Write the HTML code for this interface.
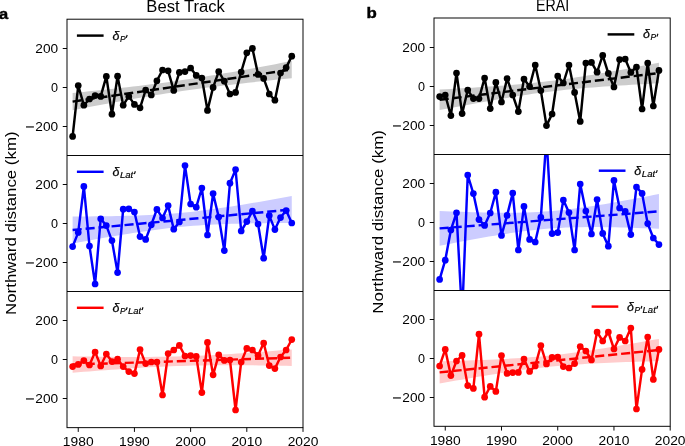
<!DOCTYPE html>
<html><head><meta charset="utf-8"><title>Northward distance</title>
<style>html,body{margin:0;padding:0;background:#fff;}svg{display:block;will-change:transform;}</style>
</head><body>
<svg width="685" height="446" viewBox="0 0 685 446" font-family='"Liberation Sans", sans-serif' fill="#000">
<rect width="685" height="446" fill="#fff"/>
<defs>
<clipPath id="ca0"><rect x="67" y="19.2" width="236" height="136.3"/></clipPath>
<clipPath id="ca1"><rect x="67" y="155.5" width="236" height="136"/></clipPath>
<clipPath id="ca2"><rect x="67" y="291.5" width="236" height="136.15"/></clipPath>
<clipPath id="cb0"><rect x="434" y="18" width="236.2" height="136.5"/></clipPath>
<clipPath id="cb1"><rect x="434" y="154.5" width="236.2" height="136"/></clipPath>
<clipPath id="cb2"><rect x="434" y="290.5" width="236.2" height="135.8"/></clipPath>
</defs>
<g clip-path="url(#ca0)">
<path d="M72.62 93 L78.1 92.45 L83.58 91.9 L89.05 91.34 L94.53 90.77 L100.01 90.19 L105.49 89.61 L110.97 89.02 L116.45 88.42 L121.93 87.81 L127.4 87.18 L132.88 86.55 L138.36 85.9 L143.84 85.23 L149.32 84.55 L154.8 83.86 L160.28 83.14 L165.75 82.41 L171.23 81.66 L176.71 80.89 L182.19 80.1 L187.67 79.29 L193.15 78.46 L198.63 77.61 L204.1 76.74 L209.58 75.86 L215.06 74.95 L220.54 74.03 L226.02 73.1 L231.5 72.15 L236.98 71.18 L242.45 70.21 L247.93 69.22 L253.41 68.22 L258.89 67.21 L264.37 66.19 L269.85 65.17 L275.33 64.14 L280.8 63.1 L286.28 62.05 L291.76 61 L291.76 78.2 L286.28 78.75 L280.8 79.3 L275.33 79.86 L269.85 80.43 L264.37 81.01 L258.89 81.59 L253.41 82.18 L247.93 82.78 L242.45 83.39 L236.98 84.02 L231.5 84.65 L226.02 85.3 L220.54 85.97 L215.06 86.65 L209.58 87.34 L204.1 88.06 L198.63 88.79 L193.15 89.54 L187.67 90.31 L182.19 91.1 L176.71 91.91 L171.23 92.74 L165.75 93.59 L160.28 94.46 L154.8 95.34 L149.32 96.25 L143.84 97.17 L138.36 98.1 L132.88 99.05 L127.4 100.02 L121.93 100.99 L116.45 101.98 L110.97 102.98 L105.49 103.99 L100.01 105.01 L94.53 106.03 L89.05 107.06 L83.58 108.1 L78.1 109.15 L72.62 110.2 Z" fill="#cccccc"/>
<polyline fill="none" stroke="#000000" stroke-width="2.45" stroke-linejoin="round" stroke-linecap="square" points="72.62,136.4 78.24,85.6 83.86,105.2 89.48,99 95.1,95.6 100.71,96.4 106.33,76.4 111.95,114.2 117.57,76.2 123.19,105.2 128.81,96.4 134.43,104.4 140.05,107.8 145.67,90 151.29,95 156.9,80.8 162.52,70 168.14,70.8 173.76,90.4 179.38,72.4 185,71.6 190.62,68 196.24,75.4 201.86,78 207.48,110.4 213.1,87.4 218.71,71.6 224.33,81.2 229.95,94 235.57,92.4 241.19,72 246.81,52.8 252.43,48.4 258.05,74.4 263.67,78.4 269.29,94 274.9,100.2 280.52,73 286.14,67.6 291.76,56.2"/>
<circle cx="72.62" cy="136.4" r="3.35" fill="#000000"/>
<circle cx="78.24" cy="85.6" r="3.35" fill="#000000"/>
<circle cx="83.86" cy="105.2" r="3.35" fill="#000000"/>
<circle cx="89.48" cy="99" r="3.35" fill="#000000"/>
<circle cx="95.1" cy="95.6" r="3.35" fill="#000000"/>
<circle cx="100.71" cy="96.4" r="3.35" fill="#000000"/>
<circle cx="106.33" cy="76.4" r="3.35" fill="#000000"/>
<circle cx="111.95" cy="114.2" r="3.35" fill="#000000"/>
<circle cx="117.57" cy="76.2" r="3.35" fill="#000000"/>
<circle cx="123.19" cy="105.2" r="3.35" fill="#000000"/>
<circle cx="128.81" cy="96.4" r="3.35" fill="#000000"/>
<circle cx="134.43" cy="104.4" r="3.35" fill="#000000"/>
<circle cx="140.05" cy="107.8" r="3.35" fill="#000000"/>
<circle cx="145.67" cy="90" r="3.35" fill="#000000"/>
<circle cx="151.29" cy="95" r="3.35" fill="#000000"/>
<circle cx="156.9" cy="80.8" r="3.35" fill="#000000"/>
<circle cx="162.52" cy="70" r="3.35" fill="#000000"/>
<circle cx="168.14" cy="70.8" r="3.35" fill="#000000"/>
<circle cx="173.76" cy="90.4" r="3.35" fill="#000000"/>
<circle cx="179.38" cy="72.4" r="3.35" fill="#000000"/>
<circle cx="185" cy="71.6" r="3.35" fill="#000000"/>
<circle cx="190.62" cy="68" r="3.35" fill="#000000"/>
<circle cx="196.24" cy="75.4" r="3.35" fill="#000000"/>
<circle cx="201.86" cy="78" r="3.35" fill="#000000"/>
<circle cx="207.48" cy="110.4" r="3.35" fill="#000000"/>
<circle cx="213.1" cy="87.4" r="3.35" fill="#000000"/>
<circle cx="218.71" cy="71.6" r="3.35" fill="#000000"/>
<circle cx="224.33" cy="81.2" r="3.35" fill="#000000"/>
<circle cx="229.95" cy="94" r="3.35" fill="#000000"/>
<circle cx="235.57" cy="92.4" r="3.35" fill="#000000"/>
<circle cx="241.19" cy="72" r="3.35" fill="#000000"/>
<circle cx="246.81" cy="52.8" r="3.35" fill="#000000"/>
<circle cx="252.43" cy="48.4" r="3.35" fill="#000000"/>
<circle cx="258.05" cy="74.4" r="3.35" fill="#000000"/>
<circle cx="263.67" cy="78.4" r="3.35" fill="#000000"/>
<circle cx="269.29" cy="94" r="3.35" fill="#000000"/>
<circle cx="274.9" cy="100.2" r="3.35" fill="#000000"/>
<circle cx="280.52" cy="73" r="3.35" fill="#000000"/>
<circle cx="286.14" cy="67.6" r="3.35" fill="#000000"/>
<circle cx="291.76" cy="56.2" r="3.35" fill="#000000"/>
<line x1="72.62" y1="101.6" x2="291.76" y2="69.6" stroke="#000000" stroke-width="2.45" stroke-dasharray="9.1 3.93"/>
</g>
<g clip-path="url(#ca1)">
<path d="M72.62 216.5 L78.1 216.48 L83.58 216.45 L89.05 216.41 L94.53 216.36 L100.01 216.3 L105.49 216.23 L110.97 216.15 L116.45 216.05 L121.93 215.94 L127.4 215.8 L132.88 215.65 L138.36 215.46 L143.84 215.26 L149.32 215.02 L154.8 214.74 L160.28 214.43 L165.75 214.08 L171.23 213.68 L176.71 213.24 L182.19 212.75 L187.67 212.21 L193.15 211.63 L198.63 211 L204.1 210.33 L209.58 209.62 L215.06 208.87 L220.54 208.08 L226.02 207.26 L231.5 206.42 L236.98 205.55 L242.45 204.66 L247.93 203.75 L253.41 202.83 L258.89 201.88 L264.37 200.93 L269.85 199.96 L275.33 198.98 L280.8 198 L286.28 197 L291.76 196 L291.76 223 L286.28 223.02 L280.8 223.05 L275.33 223.09 L269.85 223.14 L264.37 223.2 L258.89 223.27 L253.41 223.35 L247.93 223.45 L242.45 223.56 L236.98 223.7 L231.5 223.85 L226.02 224.04 L220.54 224.24 L215.06 224.48 L209.58 224.76 L204.1 225.07 L198.63 225.42 L193.15 225.82 L187.67 226.26 L182.19 226.75 L176.71 227.29 L171.23 227.87 L165.75 228.5 L160.28 229.17 L154.8 229.88 L149.32 230.63 L143.84 231.42 L138.36 232.24 L132.88 233.08 L127.4 233.95 L121.93 234.84 L116.45 235.75 L110.97 236.67 L105.49 237.62 L100.01 238.57 L94.53 239.54 L89.05 240.52 L83.58 241.5 L78.1 242.5 L72.62 243.5 Z" fill="#ccccff"/>
<polyline fill="none" stroke="#0000ff" stroke-width="2.45" stroke-linejoin="round" stroke-linecap="square" points="72.62,246.6 78.24,232.4 83.86,186.4 89.48,246 95.1,284 100.71,218.8 106.33,225.6 111.95,240.6 117.57,272.6 123.19,209.2 128.81,208.8 134.43,212 140.05,236.6 145.67,239.4 151.29,224.8 156.9,209.4 162.52,218 168.14,205.6 173.76,229.2 179.38,222 185,165.6 190.62,204 196.24,207.2 201.86,188 207.48,235 213.1,193.6 218.71,217 224.33,250.6 229.95,183.2 235.57,169.6 241.19,231 246.81,221.6 252.43,211 258.05,224 263.67,258.2 269.29,215.6 274.9,229.6 280.52,217.6 286.14,210.6 291.76,223"/>
<circle cx="72.62" cy="246.6" r="3.35" fill="#0000ff"/>
<circle cx="78.24" cy="232.4" r="3.35" fill="#0000ff"/>
<circle cx="83.86" cy="186.4" r="3.35" fill="#0000ff"/>
<circle cx="89.48" cy="246" r="3.35" fill="#0000ff"/>
<circle cx="95.1" cy="284" r="3.35" fill="#0000ff"/>
<circle cx="100.71" cy="218.8" r="3.35" fill="#0000ff"/>
<circle cx="106.33" cy="225.6" r="3.35" fill="#0000ff"/>
<circle cx="111.95" cy="240.6" r="3.35" fill="#0000ff"/>
<circle cx="117.57" cy="272.6" r="3.35" fill="#0000ff"/>
<circle cx="123.19" cy="209.2" r="3.35" fill="#0000ff"/>
<circle cx="128.81" cy="208.8" r="3.35" fill="#0000ff"/>
<circle cx="134.43" cy="212" r="3.35" fill="#0000ff"/>
<circle cx="140.05" cy="236.6" r="3.35" fill="#0000ff"/>
<circle cx="145.67" cy="239.4" r="3.35" fill="#0000ff"/>
<circle cx="151.29" cy="224.8" r="3.35" fill="#0000ff"/>
<circle cx="156.9" cy="209.4" r="3.35" fill="#0000ff"/>
<circle cx="162.52" cy="218" r="3.35" fill="#0000ff"/>
<circle cx="168.14" cy="205.6" r="3.35" fill="#0000ff"/>
<circle cx="173.76" cy="229.2" r="3.35" fill="#0000ff"/>
<circle cx="179.38" cy="222" r="3.35" fill="#0000ff"/>
<circle cx="185" cy="165.6" r="3.35" fill="#0000ff"/>
<circle cx="190.62" cy="204" r="3.35" fill="#0000ff"/>
<circle cx="196.24" cy="207.2" r="3.35" fill="#0000ff"/>
<circle cx="201.86" cy="188" r="3.35" fill="#0000ff"/>
<circle cx="207.48" cy="235" r="3.35" fill="#0000ff"/>
<circle cx="213.1" cy="193.6" r="3.35" fill="#0000ff"/>
<circle cx="218.71" cy="217" r="3.35" fill="#0000ff"/>
<circle cx="224.33" cy="250.6" r="3.35" fill="#0000ff"/>
<circle cx="229.95" cy="183.2" r="3.35" fill="#0000ff"/>
<circle cx="235.57" cy="169.6" r="3.35" fill="#0000ff"/>
<circle cx="241.19" cy="231" r="3.35" fill="#0000ff"/>
<circle cx="246.81" cy="221.6" r="3.35" fill="#0000ff"/>
<circle cx="252.43" cy="211" r="3.35" fill="#0000ff"/>
<circle cx="258.05" cy="224" r="3.35" fill="#0000ff"/>
<circle cx="263.67" cy="258.2" r="3.35" fill="#0000ff"/>
<circle cx="269.29" cy="215.6" r="3.35" fill="#0000ff"/>
<circle cx="274.9" cy="229.6" r="3.35" fill="#0000ff"/>
<circle cx="280.52" cy="217.6" r="3.35" fill="#0000ff"/>
<circle cx="286.14" cy="210.6" r="3.35" fill="#0000ff"/>
<circle cx="291.76" cy="223" r="3.35" fill="#0000ff"/>
<line x1="72.62" y1="230" x2="291.76" y2="209.5" stroke="#0000ff" stroke-width="2.45" stroke-dasharray="9.1 3.93"/>
</g>
<g clip-path="url(#ca2)">
<path d="M72.62 356.3 L78.1 356.4 L83.58 356.49 L89.05 356.58 L94.53 356.66 L100.01 356.73 L105.49 356.79 L110.97 356.85 L116.45 356.9 L121.93 356.94 L127.4 356.96 L132.88 356.97 L138.36 356.97 L143.84 356.96 L149.32 356.92 L154.8 356.87 L160.28 356.8 L165.75 356.71 L171.23 356.59 L176.71 356.46 L182.19 356.3 L187.67 356.12 L193.15 355.91 L198.63 355.69 L204.1 355.44 L209.58 355.17 L215.06 354.88 L220.54 354.58 L226.02 354.25 L231.5 353.91 L236.98 353.56 L242.45 353.2 L247.93 352.82 L253.41 352.43 L258.89 352.03 L264.37 351.63 L269.85 351.22 L275.33 350.8 L280.8 350.37 L286.28 349.94 L291.76 349.5 L291.76 365.9 L286.28 365.8 L280.8 365.71 L275.33 365.62 L269.85 365.54 L264.37 365.47 L258.89 365.41 L253.41 365.35 L247.93 365.3 L242.45 365.26 L236.98 365.24 L231.5 365.23 L226.02 365.23 L220.54 365.24 L215.06 365.28 L209.58 365.33 L204.1 365.4 L198.63 365.49 L193.15 365.61 L187.67 365.74 L182.19 365.9 L176.71 366.08 L171.23 366.29 L165.75 366.51 L160.28 366.76 L154.8 367.03 L149.32 367.32 L143.84 367.62 L138.36 367.95 L132.88 368.29 L127.4 368.64 L121.93 369 L116.45 369.38 L110.97 369.77 L105.49 370.17 L100.01 370.57 L94.53 370.98 L89.05 371.4 L83.58 371.83 L78.1 372.26 L72.62 372.7 Z" fill="#ffcccc"/>
<polyline fill="none" stroke="#ff0000" stroke-width="2.45" stroke-linejoin="round" stroke-linecap="square" points="72.62,366.6 78.24,364.4 83.86,360.6 89.48,365 95.1,352 100.71,366 106.33,354 111.95,361.6 117.57,359.2 123.19,366.6 128.81,371.6 134.43,373.6 140.05,349.6 145.67,363.6 151.29,362 156.9,362 162.52,395 168.14,353.6 173.76,350 179.38,345.4 185,356 190.62,355.6 196.24,356.4 201.86,392.6 207.48,342.4 213.1,374.8 218.71,354.8 224.33,360.4 229.95,360 235.57,410 241.19,362 246.81,348.4 252.43,350 258.05,355.4 263.67,343 269.29,365.6 274.9,368.6 280.52,357 286.14,350 291.76,339.6"/>
<circle cx="72.62" cy="366.6" r="3.35" fill="#ff0000"/>
<circle cx="78.24" cy="364.4" r="3.35" fill="#ff0000"/>
<circle cx="83.86" cy="360.6" r="3.35" fill="#ff0000"/>
<circle cx="89.48" cy="365" r="3.35" fill="#ff0000"/>
<circle cx="95.1" cy="352" r="3.35" fill="#ff0000"/>
<circle cx="100.71" cy="366" r="3.35" fill="#ff0000"/>
<circle cx="106.33" cy="354" r="3.35" fill="#ff0000"/>
<circle cx="111.95" cy="361.6" r="3.35" fill="#ff0000"/>
<circle cx="117.57" cy="359.2" r="3.35" fill="#ff0000"/>
<circle cx="123.19" cy="366.6" r="3.35" fill="#ff0000"/>
<circle cx="128.81" cy="371.6" r="3.35" fill="#ff0000"/>
<circle cx="134.43" cy="373.6" r="3.35" fill="#ff0000"/>
<circle cx="140.05" cy="349.6" r="3.35" fill="#ff0000"/>
<circle cx="145.67" cy="363.6" r="3.35" fill="#ff0000"/>
<circle cx="151.29" cy="362" r="3.35" fill="#ff0000"/>
<circle cx="156.9" cy="362" r="3.35" fill="#ff0000"/>
<circle cx="162.52" cy="395" r="3.35" fill="#ff0000"/>
<circle cx="168.14" cy="353.6" r="3.35" fill="#ff0000"/>
<circle cx="173.76" cy="350" r="3.35" fill="#ff0000"/>
<circle cx="179.38" cy="345.4" r="3.35" fill="#ff0000"/>
<circle cx="185" cy="356" r="3.35" fill="#ff0000"/>
<circle cx="190.62" cy="355.6" r="3.35" fill="#ff0000"/>
<circle cx="196.24" cy="356.4" r="3.35" fill="#ff0000"/>
<circle cx="201.86" cy="392.6" r="3.35" fill="#ff0000"/>
<circle cx="207.48" cy="342.4" r="3.35" fill="#ff0000"/>
<circle cx="213.1" cy="374.8" r="3.35" fill="#ff0000"/>
<circle cx="218.71" cy="354.8" r="3.35" fill="#ff0000"/>
<circle cx="224.33" cy="360.4" r="3.35" fill="#ff0000"/>
<circle cx="229.95" cy="360" r="3.35" fill="#ff0000"/>
<circle cx="235.57" cy="410" r="3.35" fill="#ff0000"/>
<circle cx="241.19" cy="362" r="3.35" fill="#ff0000"/>
<circle cx="246.81" cy="348.4" r="3.35" fill="#ff0000"/>
<circle cx="252.43" cy="350" r="3.35" fill="#ff0000"/>
<circle cx="258.05" cy="355.4" r="3.35" fill="#ff0000"/>
<circle cx="263.67" cy="343" r="3.35" fill="#ff0000"/>
<circle cx="269.29" cy="365.6" r="3.35" fill="#ff0000"/>
<circle cx="274.9" cy="368.6" r="3.35" fill="#ff0000"/>
<circle cx="280.52" cy="357" r="3.35" fill="#ff0000"/>
<circle cx="286.14" cy="350" r="3.35" fill="#ff0000"/>
<circle cx="291.76" cy="339.6" r="3.35" fill="#ff0000"/>
<line x1="72.62" y1="364.5" x2="291.76" y2="357.7" stroke="#ff0000" stroke-width="2.45" stroke-dasharray="9.1 3.93"/>
</g>
<g stroke="#000" stroke-width="0.97" fill="none">
<rect x="67" y="19.2" width="236" height="408.45"/>
<line x1="67" y1="155.5" x2="303" y2="155.5"/>
<line x1="67" y1="291.5" x2="303" y2="291.5"/>
<line x1="62.75" y1="48.5" x2="67" y2="48.5"/>
<line x1="62.75" y1="87.5" x2="67" y2="87.5"/>
<line x1="62.75" y1="126.5" x2="67" y2="126.5"/>
<line x1="62.75" y1="184.5" x2="67" y2="184.5"/>
<line x1="62.75" y1="223.5" x2="67" y2="223.5"/>
<line x1="62.75" y1="262.5" x2="67" y2="262.5"/>
<line x1="62.75" y1="320.5" x2="67" y2="320.5"/>
<line x1="62.75" y1="359.5" x2="67" y2="359.5"/>
<line x1="62.75" y1="398.5" x2="67" y2="398.5"/>
<line x1="78.24" y1="427.65" x2="78.24" y2="431.9"/>
<line x1="134.43" y1="427.65" x2="134.43" y2="431.9"/>
<line x1="190.62" y1="427.65" x2="190.62" y2="431.9"/>
<line x1="246.81" y1="427.65" x2="246.81" y2="431.9"/>
<line x1="303" y1="427.65" x2="303" y2="431.9"/>
</g>
<text x="58.1" y="52.95" font-size="12.9" text-anchor="end" textLength="22.8" lengthAdjust="spacingAndGlyphs">200</text>
<text x="58.1" y="91.95" font-size="12.9" text-anchor="end" textLength="7" lengthAdjust="spacingAndGlyphs">0</text>
<text x="58.1" y="130.95" font-size="12.9" text-anchor="end" textLength="22.8" lengthAdjust="spacingAndGlyphs">200</text>
<line x1="26" y1="126.95" x2="33.9" y2="126.95" stroke="#000" stroke-width="1.15"/>
<text x="58.1" y="188.95" font-size="12.9" text-anchor="end" textLength="22.8" lengthAdjust="spacingAndGlyphs">200</text>
<text x="58.1" y="227.95" font-size="12.9" text-anchor="end" textLength="7" lengthAdjust="spacingAndGlyphs">0</text>
<text x="58.1" y="266.95" font-size="12.9" text-anchor="end" textLength="22.8" lengthAdjust="spacingAndGlyphs">200</text>
<line x1="26" y1="262.95" x2="33.9" y2="262.95" stroke="#000" stroke-width="1.15"/>
<text x="58.1" y="324.95" font-size="12.9" text-anchor="end" textLength="22.8" lengthAdjust="spacingAndGlyphs">200</text>
<text x="58.1" y="363.95" font-size="12.9" text-anchor="end" textLength="7" lengthAdjust="spacingAndGlyphs">0</text>
<text x="58.1" y="402.95" font-size="12.9" text-anchor="end" textLength="22.8" lengthAdjust="spacingAndGlyphs">200</text>
<line x1="26" y1="398.95" x2="33.9" y2="398.95" stroke="#000" stroke-width="1.15"/>
<text x="78.24" y="446.05" font-size="12.9" text-anchor="middle" textLength="30.7" lengthAdjust="spacingAndGlyphs">1980</text>
<text x="134.43" y="446.05" font-size="12.9" text-anchor="middle" textLength="30.7" lengthAdjust="spacingAndGlyphs">1990</text>
<text x="190.62" y="446.05" font-size="12.9" text-anchor="middle" textLength="30.7" lengthAdjust="spacingAndGlyphs">2000</text>
<text x="246.81" y="446.05" font-size="12.9" text-anchor="middle" textLength="30.7" lengthAdjust="spacingAndGlyphs">2010</text>
<text x="303" y="446.05" font-size="12.9" text-anchor="middle" textLength="30.7" lengthAdjust="spacingAndGlyphs">2020</text>
<g clip-path="url(#cb0)">
<path d="M439.62 89.5 L445.11 89.21 L450.59 88.91 L456.07 88.6 L461.56 88.29 L467.04 87.97 L472.52 87.64 L478.01 87.3 L483.49 86.95 L488.97 86.58 L494.46 86.2 L499.94 85.81 L505.42 85.39 L510.91 84.95 L516.39 84.49 L521.87 84.01 L527.36 83.49 L532.84 82.95 L538.32 82.37 L543.8 81.75 L549.29 81.1 L554.77 80.41 L560.25 79.69 L565.74 78.93 L571.22 78.13 L576.7 77.31 L582.19 76.45 L587.67 75.57 L593.15 74.67 L598.64 73.75 L604.12 72.8 L609.6 71.84 L615.09 70.87 L620.57 69.88 L626.05 68.88 L631.54 67.87 L637.02 66.85 L642.5 65.82 L647.99 64.79 L653.47 63.75 L658.95 62.7 L658.95 83.3 L653.47 83.59 L647.99 83.89 L642.5 84.2 L637.02 84.51 L631.54 84.83 L626.05 85.16 L620.57 85.5 L615.09 85.85 L609.6 86.22 L604.12 86.6 L598.64 86.99 L593.15 87.41 L587.67 87.85 L582.19 88.31 L576.7 88.79 L571.22 89.31 L565.74 89.85 L560.25 90.43 L554.77 91.05 L549.29 91.7 L543.8 92.39 L538.32 93.11 L532.84 93.87 L527.36 94.67 L521.87 95.49 L516.39 96.35 L510.91 97.23 L505.42 98.13 L499.94 99.05 L494.46 100 L488.97 100.96 L483.49 101.93 L478.01 102.92 L472.52 103.92 L467.04 104.93 L461.56 105.95 L456.07 106.98 L450.59 108.01 L445.11 109.05 L439.62 110.1 Z" fill="#cccccc"/>
<polyline fill="none" stroke="#000000" stroke-width="2.45" stroke-linejoin="round" stroke-linecap="square" points="439.62,96.6 445.25,95 450.87,115.6 456.5,73 462.12,113.6 467.74,90 473.37,98.6 478.99,98.6 484.61,78 490.24,108.6 495.86,82.4 501.49,102 507.11,78.6 512.73,95 518.36,111.6 523.98,79 529.6,86.6 535.23,65 540.85,90.6 546.48,125.6 552.1,114 557.72,76 563.35,83 568.97,65 574.6,92.4 580.22,121.4 585.84,63 591.47,62.4 597.09,72.2 602.71,55.4 608.34,73.4 613.96,87 619.59,59.6 625.21,59 630.83,72.4 636.46,67 642.08,109 647.7,63 653.33,106 658.95,70.4"/>
<circle cx="439.62" cy="96.6" r="3.35" fill="#000000"/>
<circle cx="445.25" cy="95" r="3.35" fill="#000000"/>
<circle cx="450.87" cy="115.6" r="3.35" fill="#000000"/>
<circle cx="456.5" cy="73" r="3.35" fill="#000000"/>
<circle cx="462.12" cy="113.6" r="3.35" fill="#000000"/>
<circle cx="467.74" cy="90" r="3.35" fill="#000000"/>
<circle cx="473.37" cy="98.6" r="3.35" fill="#000000"/>
<circle cx="478.99" cy="98.6" r="3.35" fill="#000000"/>
<circle cx="484.61" cy="78" r="3.35" fill="#000000"/>
<circle cx="490.24" cy="108.6" r="3.35" fill="#000000"/>
<circle cx="495.86" cy="82.4" r="3.35" fill="#000000"/>
<circle cx="501.49" cy="102" r="3.35" fill="#000000"/>
<circle cx="507.11" cy="78.6" r="3.35" fill="#000000"/>
<circle cx="512.73" cy="95" r="3.35" fill="#000000"/>
<circle cx="518.36" cy="111.6" r="3.35" fill="#000000"/>
<circle cx="523.98" cy="79" r="3.35" fill="#000000"/>
<circle cx="529.6" cy="86.6" r="3.35" fill="#000000"/>
<circle cx="535.23" cy="65" r="3.35" fill="#000000"/>
<circle cx="540.85" cy="90.6" r="3.35" fill="#000000"/>
<circle cx="546.48" cy="125.6" r="3.35" fill="#000000"/>
<circle cx="552.1" cy="114" r="3.35" fill="#000000"/>
<circle cx="557.72" cy="76" r="3.35" fill="#000000"/>
<circle cx="563.35" cy="83" r="3.35" fill="#000000"/>
<circle cx="568.97" cy="65" r="3.35" fill="#000000"/>
<circle cx="574.6" cy="92.4" r="3.35" fill="#000000"/>
<circle cx="580.22" cy="121.4" r="3.35" fill="#000000"/>
<circle cx="585.84" cy="63" r="3.35" fill="#000000"/>
<circle cx="591.47" cy="62.4" r="3.35" fill="#000000"/>
<circle cx="597.09" cy="72.2" r="3.35" fill="#000000"/>
<circle cx="602.71" cy="55.4" r="3.35" fill="#000000"/>
<circle cx="608.34" cy="73.4" r="3.35" fill="#000000"/>
<circle cx="613.96" cy="87" r="3.35" fill="#000000"/>
<circle cx="619.59" cy="59.6" r="3.35" fill="#000000"/>
<circle cx="625.21" cy="59" r="3.35" fill="#000000"/>
<circle cx="630.83" cy="72.4" r="3.35" fill="#000000"/>
<circle cx="636.46" cy="67" r="3.35" fill="#000000"/>
<circle cx="642.08" cy="109" r="3.35" fill="#000000"/>
<circle cx="647.7" cy="63" r="3.35" fill="#000000"/>
<circle cx="653.33" cy="106" r="3.35" fill="#000000"/>
<circle cx="658.95" cy="70.4" r="3.35" fill="#000000"/>
<line x1="439.62" y1="99.8" x2="658.95" y2="73" stroke="#000000" stroke-width="2.45" stroke-dasharray="9.1 3.93"/>
</g>
<g clip-path="url(#cb1)">
<path d="M439.62 211 L445.11 211.22 L450.59 211.44 L456.07 211.64 L461.56 211.83 L467.04 212.01 L472.52 212.18 L478.01 212.32 L483.49 212.45 L488.97 212.56 L494.46 212.64 L499.94 212.69 L505.42 212.72 L510.91 212.7 L516.39 212.65 L521.87 212.54 L527.36 212.39 L532.84 212.19 L538.32 211.92 L543.8 211.59 L549.29 211.2 L554.77 210.74 L560.25 210.22 L565.74 209.64 L571.22 208.99 L576.7 208.29 L582.19 207.55 L587.67 206.75 L593.15 205.92 L598.64 205.04 L604.12 204.14 L609.6 203.21 L615.09 202.25 L620.57 201.27 L626.05 200.28 L631.54 199.26 L637.02 198.23 L642.5 197.19 L647.99 196.14 L653.47 195.07 L658.95 194 L658.95 228.8 L653.47 228.58 L647.99 228.36 L642.5 228.16 L637.02 227.97 L631.54 227.79 L626.05 227.62 L620.57 227.48 L615.09 227.35 L609.6 227.24 L604.12 227.16 L598.64 227.11 L593.15 227.08 L587.67 227.1 L582.19 227.15 L576.7 227.26 L571.22 227.41 L565.74 227.61 L560.25 227.88 L554.77 228.21 L549.29 228.6 L543.8 229.06 L538.32 229.58 L532.84 230.16 L527.36 230.81 L521.87 231.51 L516.39 232.25 L510.91 233.05 L505.42 233.88 L499.94 234.76 L494.46 235.66 L488.97 236.59 L483.49 237.55 L478.01 238.53 L472.52 239.52 L467.04 240.54 L461.56 241.57 L456.07 242.61 L450.59 243.66 L445.11 244.73 L439.62 245.8 Z" fill="#ccccff"/>
<polyline fill="none" stroke="#0000ff" stroke-width="2.45" stroke-linejoin="round" stroke-linecap="square" points="439.62,279.4 445.25,260.2 450.87,230 456.5,212.8 462.12,316 467.74,175 473.37,193.6 478.99,219.6 484.61,225.4 490.24,213 495.86,192.2 501.49,235.4 507.11,215.4 512.73,193 518.36,250 523.98,206.4 529.6,239.4 535.23,242 540.85,217.4 546.48,137.4 552.1,233.6 557.72,232.6 563.35,200 568.97,212.6 574.6,250 580.22,184 585.84,211 591.47,234 597.09,199.6 602.71,233.4 608.34,246.2 613.96,180.4 619.59,208 625.21,211.4 630.83,234.6 636.46,187 642.08,193.4 647.7,223.6 653.33,238 658.95,244.6"/>
<circle cx="439.62" cy="279.4" r="3.35" fill="#0000ff"/>
<circle cx="445.25" cy="260.2" r="3.35" fill="#0000ff"/>
<circle cx="450.87" cy="230" r="3.35" fill="#0000ff"/>
<circle cx="456.5" cy="212.8" r="3.35" fill="#0000ff"/>
<circle cx="462.12" cy="316" r="3.35" fill="#0000ff"/>
<circle cx="467.74" cy="175" r="3.35" fill="#0000ff"/>
<circle cx="473.37" cy="193.6" r="3.35" fill="#0000ff"/>
<circle cx="478.99" cy="219.6" r="3.35" fill="#0000ff"/>
<circle cx="484.61" cy="225.4" r="3.35" fill="#0000ff"/>
<circle cx="490.24" cy="213" r="3.35" fill="#0000ff"/>
<circle cx="495.86" cy="192.2" r="3.35" fill="#0000ff"/>
<circle cx="501.49" cy="235.4" r="3.35" fill="#0000ff"/>
<circle cx="507.11" cy="215.4" r="3.35" fill="#0000ff"/>
<circle cx="512.73" cy="193" r="3.35" fill="#0000ff"/>
<circle cx="518.36" cy="250" r="3.35" fill="#0000ff"/>
<circle cx="523.98" cy="206.4" r="3.35" fill="#0000ff"/>
<circle cx="529.6" cy="239.4" r="3.35" fill="#0000ff"/>
<circle cx="535.23" cy="242" r="3.35" fill="#0000ff"/>
<circle cx="540.85" cy="217.4" r="3.35" fill="#0000ff"/>
<circle cx="546.48" cy="137.4" r="3.35" fill="#0000ff"/>
<circle cx="552.1" cy="233.6" r="3.35" fill="#0000ff"/>
<circle cx="557.72" cy="232.6" r="3.35" fill="#0000ff"/>
<circle cx="563.35" cy="200" r="3.35" fill="#0000ff"/>
<circle cx="568.97" cy="212.6" r="3.35" fill="#0000ff"/>
<circle cx="574.6" cy="250" r="3.35" fill="#0000ff"/>
<circle cx="580.22" cy="184" r="3.35" fill="#0000ff"/>
<circle cx="585.84" cy="211" r="3.35" fill="#0000ff"/>
<circle cx="591.47" cy="234" r="3.35" fill="#0000ff"/>
<circle cx="597.09" cy="199.6" r="3.35" fill="#0000ff"/>
<circle cx="602.71" cy="233.4" r="3.35" fill="#0000ff"/>
<circle cx="608.34" cy="246.2" r="3.35" fill="#0000ff"/>
<circle cx="613.96" cy="180.4" r="3.35" fill="#0000ff"/>
<circle cx="619.59" cy="208" r="3.35" fill="#0000ff"/>
<circle cx="625.21" cy="211.4" r="3.35" fill="#0000ff"/>
<circle cx="630.83" cy="234.6" r="3.35" fill="#0000ff"/>
<circle cx="636.46" cy="187" r="3.35" fill="#0000ff"/>
<circle cx="642.08" cy="193.4" r="3.35" fill="#0000ff"/>
<circle cx="647.7" cy="223.6" r="3.35" fill="#0000ff"/>
<circle cx="653.33" cy="238" r="3.35" fill="#0000ff"/>
<circle cx="658.95" cy="244.6" r="3.35" fill="#0000ff"/>
<line x1="439.62" y1="228.4" x2="658.95" y2="211.4" stroke="#0000ff" stroke-width="2.45" stroke-dasharray="9.1 3.93"/>
</g>
<g clip-path="url(#cb2)">
<path d="M439.62 361.3 L445.11 361.15 L450.59 361 L456.07 360.83 L461.56 360.67 L467.04 360.49 L472.52 360.3 L478.01 360.1 L483.49 359.89 L488.97 359.67 L494.46 359.43 L499.94 359.17 L505.42 358.89 L510.91 358.59 L516.39 358.27 L521.87 357.91 L527.36 357.52 L532.84 357.1 L538.32 356.64 L543.8 356.14 L549.29 355.6 L554.77 355.02 L560.25 354.4 L565.74 353.74 L571.22 353.04 L576.7 352.31 L582.19 351.55 L587.67 350.75 L593.15 349.93 L598.64 349.09 L604.12 348.23 L609.6 347.35 L615.09 346.45 L620.57 345.54 L626.05 344.62 L631.54 343.69 L637.02 342.75 L642.5 341.79 L647.99 340.84 L653.47 339.87 L658.95 338.9 L658.95 361.1 L653.47 361.25 L647.99 361.4 L642.5 361.57 L637.02 361.73 L631.54 361.91 L626.05 362.1 L620.57 362.3 L615.09 362.51 L609.6 362.73 L604.12 362.97 L598.64 363.23 L593.15 363.51 L587.67 363.81 L582.19 364.13 L576.7 364.49 L571.22 364.88 L565.74 365.3 L560.25 365.76 L554.77 366.26 L549.29 366.8 L543.8 367.38 L538.32 368 L532.84 368.66 L527.36 369.36 L521.87 370.09 L516.39 370.85 L510.91 371.65 L505.42 372.47 L499.94 373.31 L494.46 374.17 L488.97 375.05 L483.49 375.95 L478.01 376.86 L472.52 377.78 L467.04 378.71 L461.56 379.65 L456.07 380.61 L450.59 381.56 L445.11 382.53 L439.62 383.5 Z" fill="#ffcccc"/>
<polyline fill="none" stroke="#ff0000" stroke-width="2.45" stroke-linejoin="round" stroke-linecap="square" points="439.62,366 445.25,349.4 450.87,375.6 456.5,361 462.12,355.4 467.74,385.6 473.37,388.4 478.99,334.2 484.61,397.2 490.24,386.4 495.86,391.4 501.49,355.6 507.11,373.4 512.73,372.6 518.36,372.4 523.98,359 529.6,371.4 535.23,366 540.85,345.6 546.48,364 552.1,357.4 557.72,357 563.35,366.6 568.97,368 574.6,363.6 580.22,346.6 585.84,351 591.47,360 597.09,332 602.71,341 608.34,332 613.96,349 619.59,337.4 625.21,341 630.83,328 636.46,409 642.08,369.4 647.7,337 653.33,379.4 658.95,349.4"/>
<circle cx="439.62" cy="366" r="3.35" fill="#ff0000"/>
<circle cx="445.25" cy="349.4" r="3.35" fill="#ff0000"/>
<circle cx="450.87" cy="375.6" r="3.35" fill="#ff0000"/>
<circle cx="456.5" cy="361" r="3.35" fill="#ff0000"/>
<circle cx="462.12" cy="355.4" r="3.35" fill="#ff0000"/>
<circle cx="467.74" cy="385.6" r="3.35" fill="#ff0000"/>
<circle cx="473.37" cy="388.4" r="3.35" fill="#ff0000"/>
<circle cx="478.99" cy="334.2" r="3.35" fill="#ff0000"/>
<circle cx="484.61" cy="397.2" r="3.35" fill="#ff0000"/>
<circle cx="490.24" cy="386.4" r="3.35" fill="#ff0000"/>
<circle cx="495.86" cy="391.4" r="3.35" fill="#ff0000"/>
<circle cx="501.49" cy="355.6" r="3.35" fill="#ff0000"/>
<circle cx="507.11" cy="373.4" r="3.35" fill="#ff0000"/>
<circle cx="512.73" cy="372.6" r="3.35" fill="#ff0000"/>
<circle cx="518.36" cy="372.4" r="3.35" fill="#ff0000"/>
<circle cx="523.98" cy="359" r="3.35" fill="#ff0000"/>
<circle cx="529.6" cy="371.4" r="3.35" fill="#ff0000"/>
<circle cx="535.23" cy="366" r="3.35" fill="#ff0000"/>
<circle cx="540.85" cy="345.6" r="3.35" fill="#ff0000"/>
<circle cx="546.48" cy="364" r="3.35" fill="#ff0000"/>
<circle cx="552.1" cy="357.4" r="3.35" fill="#ff0000"/>
<circle cx="557.72" cy="357" r="3.35" fill="#ff0000"/>
<circle cx="563.35" cy="366.6" r="3.35" fill="#ff0000"/>
<circle cx="568.97" cy="368" r="3.35" fill="#ff0000"/>
<circle cx="574.6" cy="363.6" r="3.35" fill="#ff0000"/>
<circle cx="580.22" cy="346.6" r="3.35" fill="#ff0000"/>
<circle cx="585.84" cy="351" r="3.35" fill="#ff0000"/>
<circle cx="591.47" cy="360" r="3.35" fill="#ff0000"/>
<circle cx="597.09" cy="332" r="3.35" fill="#ff0000"/>
<circle cx="602.71" cy="341" r="3.35" fill="#ff0000"/>
<circle cx="608.34" cy="332" r="3.35" fill="#ff0000"/>
<circle cx="613.96" cy="349" r="3.35" fill="#ff0000"/>
<circle cx="619.59" cy="337.4" r="3.35" fill="#ff0000"/>
<circle cx="625.21" cy="341" r="3.35" fill="#ff0000"/>
<circle cx="630.83" cy="328" r="3.35" fill="#ff0000"/>
<circle cx="636.46" cy="409" r="3.35" fill="#ff0000"/>
<circle cx="642.08" cy="369.4" r="3.35" fill="#ff0000"/>
<circle cx="647.7" cy="337" r="3.35" fill="#ff0000"/>
<circle cx="653.33" cy="379.4" r="3.35" fill="#ff0000"/>
<circle cx="658.95" cy="349.4" r="3.35" fill="#ff0000"/>
<line x1="439.62" y1="372.4" x2="658.95" y2="350" stroke="#ff0000" stroke-width="2.45" stroke-dasharray="9.1 3.93"/>
</g>
<g stroke="#000" stroke-width="0.97" fill="none">
<rect x="434" y="18" width="236.2" height="408.3"/>
<line x1="434" y1="154.5" x2="670.2" y2="154.5"/>
<line x1="434" y1="290.5" x2="670.2" y2="290.5"/>
<line x1="429.75" y1="47.5" x2="434" y2="47.5"/>
<line x1="429.75" y1="86.5" x2="434" y2="86.5"/>
<line x1="429.75" y1="125.5" x2="434" y2="125.5"/>
<line x1="429.75" y1="183.5" x2="434" y2="183.5"/>
<line x1="429.75" y1="222.5" x2="434" y2="222.5"/>
<line x1="429.75" y1="261.5" x2="434" y2="261.5"/>
<line x1="429.75" y1="319.5" x2="434" y2="319.5"/>
<line x1="429.75" y1="358.5" x2="434" y2="358.5"/>
<line x1="429.75" y1="397.5" x2="434" y2="397.5"/>
<line x1="445.25" y1="426.3" x2="445.25" y2="430.55"/>
<line x1="501.49" y1="426.3" x2="501.49" y2="430.55"/>
<line x1="557.72" y1="426.3" x2="557.72" y2="430.55"/>
<line x1="613.96" y1="426.3" x2="613.96" y2="430.55"/>
<line x1="670.2" y1="426.3" x2="670.2" y2="430.55"/>
</g>
<text x="425.1" y="51.95" font-size="12.9" text-anchor="end" textLength="22.8" lengthAdjust="spacingAndGlyphs">200</text>
<text x="425.1" y="90.95" font-size="12.9" text-anchor="end" textLength="7" lengthAdjust="spacingAndGlyphs">0</text>
<text x="425.1" y="129.95" font-size="12.9" text-anchor="end" textLength="22.8" lengthAdjust="spacingAndGlyphs">200</text>
<line x1="393" y1="125.95" x2="400.9" y2="125.95" stroke="#000" stroke-width="1.15"/>
<text x="425.1" y="187.95" font-size="12.9" text-anchor="end" textLength="22.8" lengthAdjust="spacingAndGlyphs">200</text>
<text x="425.1" y="226.95" font-size="12.9" text-anchor="end" textLength="7" lengthAdjust="spacingAndGlyphs">0</text>
<text x="425.1" y="265.95" font-size="12.9" text-anchor="end" textLength="22.8" lengthAdjust="spacingAndGlyphs">200</text>
<line x1="393" y1="261.95" x2="400.9" y2="261.95" stroke="#000" stroke-width="1.15"/>
<text x="425.1" y="323.95" font-size="12.9" text-anchor="end" textLength="22.8" lengthAdjust="spacingAndGlyphs">200</text>
<text x="425.1" y="362.95" font-size="12.9" text-anchor="end" textLength="7" lengthAdjust="spacingAndGlyphs">0</text>
<text x="425.1" y="401.95" font-size="12.9" text-anchor="end" textLength="22.8" lengthAdjust="spacingAndGlyphs">200</text>
<line x1="393" y1="397.95" x2="400.9" y2="397.95" stroke="#000" stroke-width="1.15"/>
<text x="445.25" y="444.7" font-size="12.9" text-anchor="middle" textLength="30.7" lengthAdjust="spacingAndGlyphs">1980</text>
<text x="501.49" y="444.7" font-size="12.9" text-anchor="middle" textLength="30.7" lengthAdjust="spacingAndGlyphs">1990</text>
<text x="557.72" y="444.7" font-size="12.9" text-anchor="middle" textLength="30.7" lengthAdjust="spacingAndGlyphs">2000</text>
<text x="613.96" y="444.7" font-size="12.9" text-anchor="middle" textLength="30.7" lengthAdjust="spacingAndGlyphs">2010</text>
<text x="670.2" y="444.7" font-size="12.9" text-anchor="middle" textLength="30.7" lengthAdjust="spacingAndGlyphs">2020</text>
<text x="185.6" y="12.2" font-size="15.6" text-anchor="middle" textLength="78.6" lengthAdjust="spacingAndGlyphs">Best Track</text>
<text x="552.6" y="10.9" font-size="15.6" text-anchor="middle" textLength="33.2" lengthAdjust="spacingAndGlyphs">ERAI</text>
<text x="-0.9" y="18.6" font-size="14.9" text-anchor="start" textLength="9.2" lengthAdjust="spacingAndGlyphs" font-weight="bold" stroke="#000" stroke-width="0.4">a</text>
<text x="366.5" y="18.3" font-size="15.2" text-anchor="start" textLength="10.3" lengthAdjust="spacingAndGlyphs" font-weight="bold" stroke="#000" stroke-width="0.4">b</text>
<g transform="translate(16.3 223.2) rotate(-90)">
<text x="0" y="0" font-size="15.4" text-anchor="middle" textLength="183.5" lengthAdjust="spacingAndGlyphs">Northward distance (km)</text>
</g>
<g transform="translate(382.9 221.9) rotate(-90)">
<text x="0" y="0" font-size="15.4" text-anchor="middle" textLength="183.5" lengthAdjust="spacingAndGlyphs">Northward distance (km)</text>
</g>
<line x1="76.9" y1="35.6" x2="103.6" y2="35.6" stroke="#000000" stroke-width="2.45"/>
<text x="112.4" y="39.6" font-size="13.6" text-anchor="start" textLength="6.9" lengthAdjust="spacingAndGlyphs" font-style="italic" stroke="#000" stroke-width="0.25">δ</text>
<text x="119.9" y="41.6" font-size="8.8" text-anchor="start" textLength="5.6" lengthAdjust="spacingAndGlyphs" font-style="italic" stroke="#000" stroke-width="0.18">P</text>
<line x1="127.2" y1="35" x2="126.25" y2="37.8" stroke="#000" stroke-width="1.1"/>
<line x1="76.9" y1="171.8" x2="103.6" y2="171.8" stroke="#0000ff" stroke-width="2.45"/>
<text x="112.4" y="175.8" font-size="13.6" text-anchor="start" textLength="6.9" lengthAdjust="spacingAndGlyphs" font-style="italic" stroke="#000" stroke-width="0.25">δ</text>
<text x="119.9" y="177.8" font-size="8.8" text-anchor="start" textLength="13.4" lengthAdjust="spacingAndGlyphs" font-style="italic" stroke="#000" stroke-width="0.18">Lat</text>
<line x1="135.35" y1="171.2" x2="134.4" y2="174" stroke="#000" stroke-width="1.1"/>
<line x1="76.9" y1="307.8" x2="103.6" y2="307.8" stroke="#ff0000" stroke-width="2.45"/>
<text x="112.4" y="311.8" font-size="13.6" text-anchor="start" textLength="6.9" lengthAdjust="spacingAndGlyphs" font-style="italic" stroke="#000" stroke-width="0.25">δ</text>
<text x="119.9" y="313.8" font-size="8.8" text-anchor="start" textLength="5.6" lengthAdjust="spacingAndGlyphs" font-style="italic" stroke="#000" stroke-width="0.18">P</text>
<line x1="127.2" y1="307.2" x2="126.25" y2="310" stroke="#000" stroke-width="1.1"/>
<text x="127.9" y="313.8" font-size="8.8" text-anchor="start" textLength="13.2" lengthAdjust="spacingAndGlyphs" font-style="italic" stroke="#000" stroke-width="0.18">Lat</text>
<line x1="143" y1="307.2" x2="142.05" y2="310" stroke="#000" stroke-width="1.1"/>
<line x1="607.6" y1="34.4" x2="634.3" y2="34.4" stroke="#000000" stroke-width="2.45"/>
<text x="643.1" y="38.4" font-size="13.6" text-anchor="start" textLength="6.9" lengthAdjust="spacingAndGlyphs" font-style="italic" stroke="#000" stroke-width="0.25">δ</text>
<text x="650.6" y="40.4" font-size="8.8" text-anchor="start" textLength="5.6" lengthAdjust="spacingAndGlyphs" font-style="italic" stroke="#000" stroke-width="0.18">P</text>
<line x1="657.9" y1="33.8" x2="656.95" y2="36.6" stroke="#000" stroke-width="1.1"/>
<line x1="598.8" y1="170.7" x2="625.5" y2="170.7" stroke="#0000ff" stroke-width="2.45"/>
<text x="634.3" y="174.7" font-size="13.6" text-anchor="start" textLength="6.9" lengthAdjust="spacingAndGlyphs" font-style="italic" stroke="#000" stroke-width="0.25">δ</text>
<text x="641.8" y="176.7" font-size="8.8" text-anchor="start" textLength="13.4" lengthAdjust="spacingAndGlyphs" font-style="italic" stroke="#000" stroke-width="0.18">Lat</text>
<line x1="657.25" y1="170.1" x2="656.3" y2="172.9" stroke="#000" stroke-width="1.1"/>
<line x1="591.6" y1="306.6" x2="618.3" y2="306.6" stroke="#ff0000" stroke-width="2.45"/>
<text x="627.1" y="310.6" font-size="13.6" text-anchor="start" textLength="6.9" lengthAdjust="spacingAndGlyphs" font-style="italic" stroke="#000" stroke-width="0.25">δ</text>
<text x="634.6" y="312.6" font-size="8.8" text-anchor="start" textLength="5.6" lengthAdjust="spacingAndGlyphs" font-style="italic" stroke="#000" stroke-width="0.18">P</text>
<line x1="641.9" y1="306" x2="640.95" y2="308.8" stroke="#000" stroke-width="1.1"/>
<text x="642.6" y="312.6" font-size="8.8" text-anchor="start" textLength="13.2" lengthAdjust="spacingAndGlyphs" font-style="italic" stroke="#000" stroke-width="0.18">Lat</text>
<line x1="657.7" y1="306" x2="656.75" y2="308.8" stroke="#000" stroke-width="1.1"/>
</svg>
</body></html>
